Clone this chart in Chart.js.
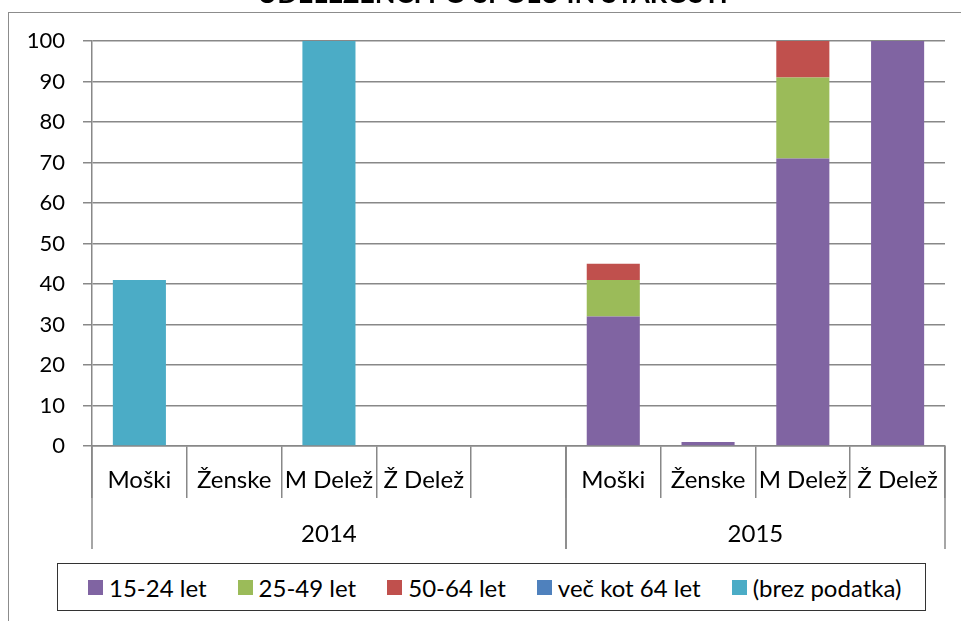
<!DOCTYPE html>
<html>
<head>
<meta charset="utf-8">
<script src="https://cdn.jsdelivr.net/npm/chart.js@4.4.1/dist/chart.umd.min.js"></script>
<style>
  body { margin: 0; background: #fff; }
  #wrap { position: relative; width: 961px; height: 621px; overflow: hidden; font-family: Lato, sans-serif; }
  #chart { position: absolute; left: 0; top: 0; }
  #frame { position: absolute; left: 8px; top: 12px; width: 1000px; height: 700px;
           border-left: 1.5px solid #8c8c8c; border-top: 1.5px solid #8c8c8c; }
  #title { position: absolute; left: 0; top: -23px; width: 985px; text-align: center;
           font-weight: bold; font-size: 27px; line-height: 1.2; color: #000; white-space: nowrap; }
  #legend { position: absolute; left: 57px; top: 563px; width: 869px; height: 48px; box-sizing: border-box;
            border: 1.3px solid #333; display: flex; align-items: center; justify-content: flex-start;
            padding-left: 30px; gap: 31px; font-size: 24px; color: #000; background: #fff; }
  .item { display: flex; align-items: center; white-space: nowrap; }
  .sw { width: 15px; height: 15px; margin-right: 6px; }
</style>
</head>
<body>
<div id="wrap">
  <div id="frame"></div>
  <canvas id="chart" width="961" height="621"></canvas>
  <div id="title">UDELEŽENCI PO SPOLU IN STAROSTI</div>
  <div id="legend"></div>
</div>
<script>
// categories (the empty slot is the gap between the two years)
const categories = ['Moški', 'Ženske', 'M Delež', 'Ž Delež', '', 'Moški', 'Ženske', 'M Delež', 'Ž Delež'];
const years = ['2014', '2015'];
const yearSpans = [5, 4];

// series values
const age15to24 = [0, 0, 0, 0, 0, 32, 1, 71, 100];
const age25to49 = [0, 0, 0, 0, 0, 9, 0, 20, 0];
const age50to64 = [0, 0, 0, 0, 0, 4, 0, 9, 0];
const ageOver64 = [0, 0, 0, 0, 0, 0, 0, 0, 0];
const noData    = [41, 0, 100, 0, 0, 0, 0, 0, 0];

const seriesNames = ['15-24 let', '25-49 let', '50-64 let', 'več kot 64 let', '(brez podatka)'];
const seriesColors = ['#8064A2', '#9BBB59', '#C0504D', '#4F81BD', '#4BACC6'];
const seriesValues = [age15to24, age25to49, age50to64, ageOver64, noData];

const yTicks = [0, 10, 20, 30, 40, 50, 60, 70, 80, 90, 100];

const gridColor = '#888888';

// year labels + long separators under the category labels
const yearBands = {
    id: 'yearBands',
    afterDraw(chart) {
        const x = chart.scales.x;
        const ctx = chart.ctx;
        const half = (x.getPixelForValue(1) - x.getPixelForValue(0)) / 2;
        ctx.save();
        ctx.strokeStyle = gridColor;
        ctx.lineWidth = 1.5;
        ctx.fillStyle = '#000';
        ctx.font = '24px Lato';
        ctx.textAlign = 'center';
        ctx.textBaseline = 'middle';
        let start = 0;
        years.forEach((yr, i) => {
            const end = start + yearSpans[i] - 1;
            const l = x.getPixelForValue(start) - half;
            const r = x.getPixelForValue(end) + half;
            [l, r].forEach(px => {
                ctx.beginPath();
                ctx.moveTo(Math.round(px), x.top);
                ctx.lineTo(Math.round(px), x.top + 103);
                ctx.stroke();
            });
            ctx.fillText(yr, (x.getPixelForValue(start) + x.getPixelForValue(end)) / 2, x.top + 88);
            start = end + 1;
        });
        ctx.restore();
    }
};

const ctx = document.getElementById('chart').getContext('2d');
new Chart(ctx, {
    type: 'bar',
    data: {
        labels: categories,
        datasets: seriesNames.map((name, i) => ({
            label: name,
            data: seriesValues[i],
            backgroundColor: seriesColors[i],
            borderWidth: 0,
            categoryPercentage: 1,
            barPercentage: 0.56
        }))
    },
    options: {
        responsive: false,
        animation: false,
        layout: { padding: { left: 0, top: 41, right: 16, bottom: 0 } },
        plugins: {
            legend: { display: false },
            tooltip: { enabled: false }
        },
        scales: {
            x: {
                stacked: true,
                afterFit: s => { s.height = 175; },
                grid: {
                    offset: true,
                    drawOnChartArea: false,
                    tickLength: 52,
                    color: gridColor,
                    lineWidth: 1.5
                },
                border: { color: gridColor, width: 1.5 },
                ticks: {
                    padding: -32,
                    color: '#000',
                    font: { family: 'Lato', size: 24 },
                    maxRotation: 0,
                    autoSkip: false
                }
            },
            y: {
                stacked: true,
                min: 0,
                max: 100,
                afterFit: s => { s.width = 92; },
                afterBuildTicks: s => { s.ticks = yTicks.map(v => ({ value: v })); },
                grid: { color: gridColor, lineWidth: 1.5, tickLength: 9 },
                border: { color: gridColor, width: 1.5 },
                ticks: {
                    padding: 18,
                    color: '#000',
                    font: { family: 'Lato', size: 22 }
                }
            }
        }
    },
    plugins: [yearBands]
});

// legend box
const legend = document.getElementById('legend');
seriesNames.forEach((name, i) => {
    const item = document.createElement('div');
    item.className = 'item';
    item.innerHTML = '<span class="sw" style="background:' + seriesColors[i] + '"></span>' + name;
    legend.appendChild(item);
});
</script>
</body>
</html>
